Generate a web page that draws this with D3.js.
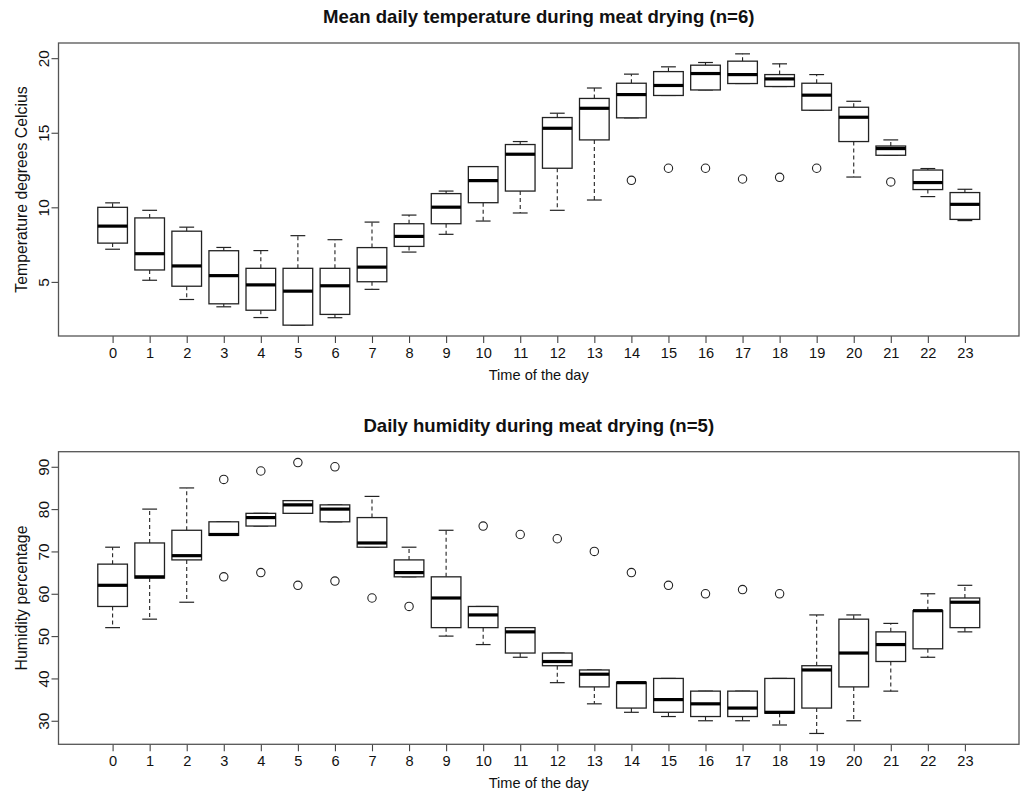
<!DOCTYPE html>
<html><head><meta charset="utf-8">
<script src="https://cdn.jsdelivr.net/npm/d3@7/dist/d3.min.js"></script>
<style>
body{margin:0;background:#fff}
svg{display:block}
text{font-family:"Liberation Sans",Arial,Helvetica,sans-serif;fill:#111}
</style>
</head><body>
<svg id="chart" width="1021" height="793"></svg>
<script>
// ---------- data ----------
const hours = [0,1,2,3,4,5,6,7,8,9,10,11,12,13,14,15,16,17,18,19,20,21,22,23];

// Temperature (°C), five-number summaries per hour (n=6)
const tempLow  = [7.19,5.11,3.82,3.33,2.61,2.10,2.60,4.50,7.00,8.19,9.08,9.62,9.80,10.49,16.00,17.50,17.87,18.30,18.10,16.51,12.03,13.49,10.72,9.11];
const tempQ1   = [7.60,5.80,4.71,3.53,3.10,2.10,2.82,5.01,7.38,8.90,10.31,11.09,12.62,14.52,16.00,17.50,17.87,18.30,18.10,16.51,14.41,13.49,11.19,9.19];
const tempMed  = [8.74,6.89,6.07,5.42,4.80,4.38,4.74,5.99,8.05,10.01,11.79,13.56,15.30,16.64,17.56,18.17,18.97,18.90,18.61,17.52,16.04,13.94,11.66,10.20];
const tempQ3   = [10.00,9.29,8.40,7.09,5.91,5.91,5.91,7.30,8.90,10.92,12.73,14.21,16.02,17.30,18.32,19.10,19.53,19.80,18.90,18.32,16.71,14.11,12.50,10.99];
const tempHigh = [10.30,9.80,8.67,7.31,7.10,8.10,7.83,9.01,9.48,11.09,12.73,14.41,16.31,18.00,18.93,19.42,19.71,20.29,19.62,18.90,17.11,14.52,12.60,11.21];
const tempOut  = [[],[],[],[],[],[],[],[],[],[],[],[],[],[],[11.81],[12.62],[12.62],[11.90],[12.01],[12.62],[],[11.70],[],[]];

// Humidity (%), five-number summaries per hour (n=5)
const humLow  = [52,54,58,73.8,76,79,77,71,64,50,48,45,39,34,32,31,30,30,29,27,30,37,45,51];
const humQ1   = [57,63.7,68,73.8,76,79,77,71,64,52,52,46,43,38,33,32,31,31,31.8,33,38,44,47,52];
const humMed  = [62,64,69,74,78,81,80,72,65,59,55,51,44,41,39,35,34,33,32,42,46,48,56,58];
const humQ3   = [67,72,75,77,79,82,81,78,68,64,57,52,46,42,39.1,40,37,37,40,43,54,51,56,59];
const humHigh = [71,80,85,77,79,82,81,83,71,75,57,52,46,42,39.1,40,37,37,40,55,55,53,60,62];
const humOut  = [[],[],[],[64,87],[65,89],[62,91],[63,90],[59],[57],[],[76],[74],[73],[70],[65],[62],[60],[61],[60],[],[],[],[],[]];

const tempTicks = [5,10,15,20];
const humTicks  = [30,40,50,60,70,80,90];

// ---------- drawing ----------
const svg = d3.select("#chart");
const left = 58.5, right = 1019;

const x = d3.scaleLinear()
  .domain([-0.5 - 0.96, 23.5 + 0.96])
  .range([left, right]);
const step = x(1) - x(0);
const boxW = 0.8 * step;
const capW = 0.5 * boxW;

function panel(cfg){
  const g = svg.append("g");
  const all = cfg.low.concat(cfg.high, cfg.out.flat());
  const [mn, mx] = d3.extent(all);
  const pad = (mx - mn) * 0.04;
  const y = d3.scaleLinear().domain([mn - pad, mx + pad]).range([cfg.bottom, cfg.top]);

  // title
  g.append("text")
    .attr("x", (left + right) / 2).attr("y", cfg.top - 26.5)
    .attr("text-anchor", "middle").attr("dominant-baseline", "central")
    .style("font-size", "18.6px").style("font-weight", "bold")
    .text(cfg.title);

  // x axis
  const xa = g.append("g").attr("transform", `translate(0,${cfg.bottom})`)
    .call(d3.axisBottom(x).tickValues(hours).tickSize(7).tickFormat(d3.format("d")));
  xa.select(".domain").remove();
  xa.selectAll(".tick line").attr("stroke", "#444").attr("stroke-width", 1.1);
  xa.selectAll(".tick text").attr("y", 17).attr("dy", null)
    .attr("dominant-baseline", "central")
    .style("font-size", "14.6px").style("fill", "#111").attr("font-family", null);

  // y axis
  const ya = g.append("g").attr("transform", `translate(${left},0)`)
    .call(d3.axisLeft(y).tickValues(cfg.ticks).tickSize(7).tickFormat(d3.format("d")));
  ya.select(".domain").remove();
  ya.selectAll(".tick line").attr("stroke", "#444").attr("stroke-width", 1.1);
  ya.selectAll(".tick text")
    .attr("x", null).attr("dy", null).attr("y", null)
    .attr("text-anchor", "middle").attr("dominant-baseline", "central")
    .attr("transform", "translate(-15,0) rotate(-90)")
    .style("font-size", "15.4px").style("fill", "#111").attr("font-family", null);

  // axis titles
  g.append("text")
    .attr("x", (left + right) / 2).attr("y", cfg.bottom + 39)
    .attr("text-anchor", "middle").attr("dominant-baseline", "central")
    .style("font-size", "14.6px").text("Time of the day");
  g.append("text")
    .attr("transform", `translate(21.5,${(cfg.top + cfg.bottom) / 2}) rotate(-90)`)
    .attr("text-anchor", "middle").attr("dominant-baseline", "central")
    .style("font-size", "15.8px").text(cfg.ylabel);

  // boxes
  const bx = g.append("g");
  hours.forEach((h, i) => {
    const cx = x(h);
    const b = bx.append("g");
    // whiskers
    b.append("line").attr("x1", cx).attr("x2", cx)
      .attr("y1", y(cfg.q3[i])).attr("y2", y(cfg.high[i]))
      .attr("stroke", "#222").attr("stroke-width", 1.1).attr("stroke-dasharray", "4,3");
    b.append("line").attr("x1", cx).attr("x2", cx)
      .attr("y1", y(cfg.q1[i])).attr("y2", y(cfg.low[i]))
      .attr("stroke", "#222").attr("stroke-width", 1.1).attr("stroke-dasharray", "4,3");
    // staples
    [cfg.high[i], cfg.low[i]].forEach(v => {
      b.append("line").attr("x1", cx - capW / 2).attr("x2", cx + capW / 2)
        .attr("y1", y(v)).attr("y2", y(v))
        .attr("stroke", "#222").attr("stroke-width", 1.2);
    });
    // box
    b.append("rect")
      .attr("x", cx - boxW / 2).attr("width", boxW)
      .attr("y", y(cfg.q3[i])).attr("height", Math.max(0, y(cfg.q1[i]) - y(cfg.q3[i])))
      .attr("fill", "#fff").attr("stroke", "#222").attr("stroke-width", 1.3);
    // median
    b.append("line").attr("x1", cx - boxW / 2).attr("x2", cx + boxW / 2)
      .attr("y1", y(cfg.med[i])).attr("y2", y(cfg.med[i]))
      .attr("stroke", "#000").attr("stroke-width", 3.2);
    // outliers
    cfg.out[i].forEach(v => {
      b.append("circle").attr("cx", cx).attr("cy", y(v)).attr("r", 4.2)
        .attr("fill", "none").attr("stroke", "#222").attr("stroke-width", 1.1);
    });
  });

  // frame
  g.append("rect")
    .attr("x", left).attr("y", cfg.top)
    .attr("width", right - left).attr("height", cfg.bottom - cfg.top)
    .attr("fill", "none").attr("stroke", "#555").attr("stroke-width", 1.3);
}

panel({
  top: 43, bottom: 336,
  low: tempLow, q1: tempQ1, med: tempMed, q3: tempQ3, high: tempHigh, out: tempOut,
  ticks: tempTicks,
  title: "Mean daily temperature during meat drying (n=6)",
  ylabel: "Temperature degrees Celcius"
});
panel({
  top: 451.7, bottom: 744.3,
  low: humLow, q1: humQ1, med: humMed, q3: humQ3, high: humHigh, out: humOut,
  ticks: humTicks,
  title: "Daily humidity during meat drying (n=5)",
  ylabel: "Humidity percentage"
});
</script>
</body></html>
